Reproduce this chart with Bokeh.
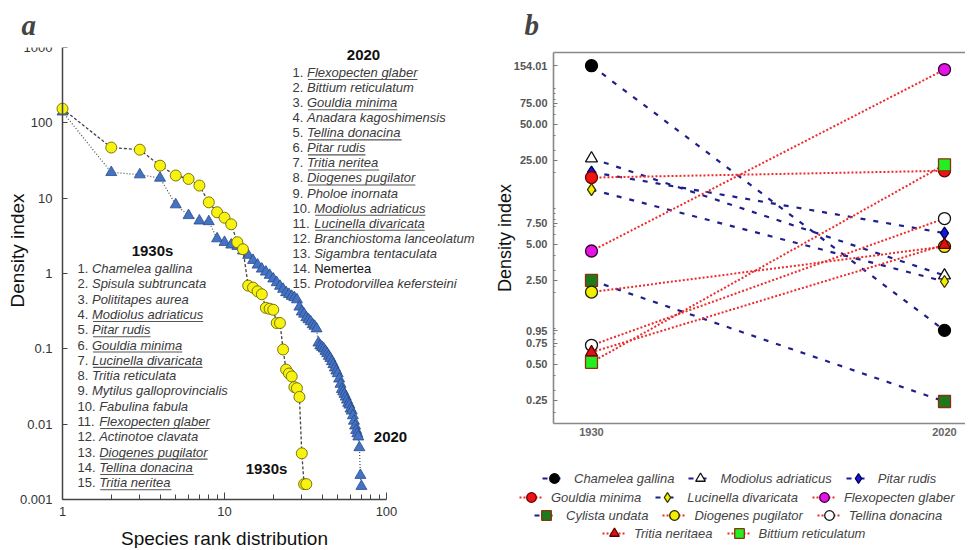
import math
from bokeh.plotting import figure
from bokeh.layouts import row
from bokeh.models import (FixedTicker, CustomJSTickFormatter, PrintfTickFormatter,
                          Legend, LegendItem, LinearAxis, Label, BoxAnnotation)
from bokeh.embed import file_html
from bokeh.resources import INLINE

# ---------------- panel a data ----------------
rank_1930 = list(range(1, 33))
dens_1930 = [154, 47, 44, 27, 20, 18, 14.7, 8.8, 6.5, 5.5,
             4.5, 2.6, 2.1, 0.69, 0.65, 0.58, 0.53, 0.35, 0.34, 0.33,
             0.22, 0.22, 0.098, 0.053, 0.047, 0.043, 0.031, 0.030, 0.023, 0.0041,
             0.0016, 0.0016]
rank_2020 = list(range(1, 71))
dens_2020 = [140, 22, 20.5, 18.5, 8.2, 5.9, 5.0, 4.9, 2.9, 2.6,
             2.4, 2.3, 2.0, 1.75, 1.5, 1.3, 1.15, 1.05, 0.95, 0.85,
             0.76, 0.68, 0.62, 0.56, 0.53, 0.5, 0.48, 0.45, 0.36, 0.31,
             0.29, 0.26, 0.245, 0.23, 0.21, 0.2, 0.185, 0.12, 0.11, 0.105,
             0.1, 0.093, 0.087, 0.08, 0.075, 0.068, 0.062, 0.056, 0.051, 0.047,
             0.04, 0.034, 0.029, 0.027, 0.025, 0.023, 0.021, 0.019, 0.018, 0.016,
             0.015, 0.013, 0.011, 0.0095, 0.0083, 0.0075, 0.0068, 0.0049, 0.0021, 0.0015]

x_ticks_a = [1, 10, 100]
x_minor_a = [2, 3, 4, 5, 6, 7, 8, 9, 20, 30, 40, 50, 60, 70, 80, 90]
y_ticks_a = [0.001, 0.01, 0.1, 1, 10, 100, 1000]

list_1930 = ["Chamelea gallina", "Spisula subtruncata", "Polititapes aurea",
             "Modiolus adriaticus", "Pitar rudis", "Gouldia minima",
             "Lucinella divaricata", "Tritia reticulata", "Mytilus galloprovincialis",
             "Fabulina fabula", "Flexopecten glaber", "Actinotoe clavata",
             "Diogenes pugilator", "Tellina donacina", "Tritia neritea"]
under_1930 = [0, 0, 0, 1, 1, 1, 1, 0, 0, 0, 1, 0, 1, 1, 1]
list_2020 = ["Flexopecten glaber", "Bittium reticulatum", "Gouldia minima",
             "Anadara kagoshimensis", "Tellina donacina", "Pitar rudis",
             "Tritia neritea", "Diogenes pugilator", "Pholoe inornata",
             "Modiolus adriaticus", "Lucinella divaricata", "Branchiostoma lanceolatum",
             "Sigambra tentaculata", "Nemertea", "Protodorvillea kefersteini"]
under_2020 = [1, 0, 1, 0, 1, 1, 1, 1, 0, 1, 1, 0, 0, 0, 0]

# ---------------- panel b data ----------------
species_b = ["Chamelea gallina", "Modiolus adriaticus", "Pitar rudis",
             "Gouldia minima", "Lucinella divaricata", "Flexopecten glaber",
             "Cylista undata", "Diogenes pugilator", "Tellina donacina",
             "Tritia neritaea", "Bittium reticulatum"]
years_b = [1930, 2020]
dens_b_1930 = [154.01, 26, 20, 18, 14.3, 4.4, 2.5, 2.0, 0.72, 0.63, 0.52]
dens_b_2020 = [0.96, 2.75, 6.2, 20.5, 2.45, 143, 0.245, 4.8, 8.2, 4.95, 23]
y_ticks_b = [0.25, 0.5, 0.75, 0.95, 2.5, 5, 7.5, 25, 50, 75, 154.01]
y_minor_b = [0.2, 0.3, 0.4, 0.6, 0.7, 0.8, 0.9, 1, 2, 3, 4, 6, 7, 8, 9, 10,
             20, 30, 40, 60, 70, 80, 90, 100]

markers_b = ["circle", "triangle", "diamond", "circle", "diamond", "circle",
             "square", "circle", "circle", "triangle", "square"]
fills_b = ["#000000", "#ffffff", "#1414e6", "#ee1414", "#f2ee00", "#e414e4",
           "#1c7a1c", "#f2ee00", "#ffffff", "#e01010", "#22ee22"]
edges_b = ["#000000", "#111111", "#000044", "#6a0000", "#333300", "#330033",
           "#8b3010", "#222200", "#111111", "#5a0000", "#8b3010"]
kinds_b = ["dash", "dash", "dash", "dot", "dash", "dot", "dash", "dot", "dot", "dot", "dot"]
legend_rows = [[0, 1, 2], [3, 4, 5], [6, 7, 8], [9, 10]]

FONT = "Liberation Sans"
H = 548          # both figures: frame from y=47 down to the figure bottom
TOP = 47
PAGE_X0 = 1      # observed left edge of the rendered layout
SHIFT = 7        # extra left border of panel a so the frame starts at page x = 8

# Arial-like advance widths (per 1000 em) for underline lengths
AW = dict(zip("abcdefghijklmnopqrstuvwxyz",
              [556, 556, 500, 556, 556, 278, 556, 556, 222, 222, 500, 222, 833,
               556, 556, 556, 556, 333, 500, 278, 556, 500, 722, 500, 500, 500]))
AW.update(dict(zip("ABCDEFGHIJKLMNOPQRSTUVWXYZ",
                   [667, 667, 722, 722, 667, 611, 778, 722, 278, 500, 667, 556, 833,
                    722, 778, 667, 778, 722, 667, 611, 722, 667, 944, 667, 667, 611])))
AW.update({" ": 278, ".": 278})


def text_w(s, px):
    return sum(AW.get(c, 556) for c in s) * px / 1000.0


# ================= panel a =================
# page pixels: x axis 1..100 spans 63..387, y axis 1000..0.001 spans 47..499
AX0, DEC_X = 63.0, 162.0
AY0, DEC_Y = 47.0, 452.0 / 6.0
FA_L, FA_R = 8, 480


def ax_x(px):
    return 10 ** ((px - AX0) / DEC_X)


def ax_y(py):
    return 10 ** (3.0 - (py - AY0) / DEC_Y)


pa = figure(width=FA_R - FA_L + SHIFT, height=H, x_axis_type="log", y_axis_type="log",
            x_range=(ax_x(FA_L), ax_x(FA_R)), y_range=(ax_y(H), ax_y(TOP)),
            output_backend="svg", toolbar_location=None,
            min_border_left=SHIFT, min_border_right=0, min_border_top=TOP,
            min_border_bottom=0, title="a")
pa.outline_line_color = None
pa.grid.visible = False

pa.title.text_font = "Liberation Serif"
pa.title.text_font_style = "bold italic"
pa.title.text_font_size = "29px"
pa.title.align = "left"
pa.title.offset = 14
pa.title.standoff = 13

pa.line(rank_2020, dens_2020, line_dash="1 2", line_color="#555555", line_width=1.3)
pa.scatter(rank_2020, dens_2020, marker="triangle", size=11,
           fill_color="#4573c4", line_color="#2a4a8a", line_width=0.8)
pa.line(rank_1930, dens_1930, line_dash="3 2", line_color="#444444", line_width=1.3)
pa.scatter(rank_1930, dens_1930, marker="circle", size=11,
           fill_color="#f7f20f", line_color="#6e6a00", line_width=0.9)

xa = pa.xaxis[0]
xa.fixed_location = 0.001
xa.bounds = (1, 100)
xa.ticker = FixedTicker(ticks=x_ticks_a, minor_ticks=x_minor_a)
xa.formatter = CustomJSTickFormatter(code="return String(tick)")
xa.major_tick_in = 7
xa.major_tick_out = 0
xa.minor_tick_in = 5
xa.minor_tick_out = 0
xa.axis_line_color = "#444444"
xa.axis_line_width = 1.5
xa.major_tick_line_color = "#444444"
xa.minor_tick_line_color = "#444444"
xa.major_label_text_font = FONT
xa.major_label_text_font_size = "13px"
xa.major_label_text_color = "#333333"
xa.major_label_standoff = 7
xa.axis_label = "Species rank distribution"
xa.axis_label_text_font = FONT
xa.axis_label_text_font_size = "19px"
xa.axis_label_text_font_style = "normal"
xa.axis_label_text_color = "#111111"
xa.axis_label_standoff = 9

ya = pa.yaxis[0]
ya.fixed_location = 1
ya.bounds = (0.001, 1000)
ya.ticker = FixedTicker(ticks=y_ticks_a, minor_ticks=[])
ya.formatter = CustomJSTickFormatter(code="return String(tick)")
ya.major_tick_in = 5
ya.major_tick_out = 0
ya.minor_tick_in = 0
ya.minor_tick_out = 0
ya.axis_line_color = "#444444"
ya.axis_line_width = 1.5
ya.major_tick_line_color = "#444444"
ya.major_label_text_font = FONT
ya.major_label_text_font_size = "13px"
ya.major_label_text_color = "#333333"
ya.major_label_standoff = 10


def add_label(p, px, py, text, size="13px", style="normal", align="left",
              color="#3a3a3a", angle=0.0):
    p.add_layout(Label(x=ax_x(px), y=ax_y(py), text=text, text_font=FONT,
                       text_font_size=size, text_font_style=style, text_align=align,
                       text_baseline="middle", text_color=color, angle=angle))


def add_list(p, x_num, y0, dy, items, under, fs=13):
    for i, name in enumerate(items):
        yy = y0 + i * dy
        num = f"{i + 1}."
        add_label(p, x_num, yy, num)
        nx = x_num + text_w(num + " ", fs)
        style = "normal" if name == "Nemertea" else "italic"
        col = "#111111" if name == "Nemertea" else "#3a3a3a"
        add_label(p, nx, yy, name, style=style, color=col)
        if under[i]:
            w = text_w(name, fs)
            p.add_layout(BoxAnnotation(left=ax_x(nx + 1), right=ax_x(nx + w),
                                       top=ax_y(yy + 6.5), bottom=ax_y(yy + 7.6),
                                       fill_color="#555555", fill_alpha=1.0,
                                       line_color=None))


add_label(pa, 18, 250, "Density index", size="19px", align="center",
          color="#111111", angle=math.pi / 2)
add_label(pa, 153, 250, "1930s", size="15px", style="bold", align="center", color="#111111")
add_list(pa, 78, 268, 15.3, list_1930, under_1930)
add_label(pa, 364, 54, "2020", size="15px", style="bold", align="center", color="#111111")
add_list(pa, 293, 72, 15.07, list_2020, under_2020)
add_label(pa, 267, 468, "1930s", size="15px", style="bold", align="center", color="#111111")
add_label(pa, 391, 436, "2020", size="15px", style="bold", align="center", color="#111111")

# ================= panel b =================
# page pixels: 1930 -> 592, 2020 -> 945 ; density v -> 327.7 - 120*log10(v)
BX_PER_YR = (945 - 592) / 90.0
FB_L, FB_R = 480, 966
PB_L, PB_T, PB_B = 554, 52, 423    # visible plot box (axes lines)


def bx(px):
    return 1930 + (px - 592) / BX_PER_YR


def by(py):
    return 10 ** ((327.7 - py) / 120.0)


pb = figure(width=FB_R - FB_L, height=H, y_axis_type="log",
            x_range=(bx(FB_L), bx(FB_R)), y_range=(by(H), by(TOP)),
            output_backend="svg", toolbar_location=None,
            min_border_left=0, min_border_right=0, min_border_top=TOP,
            min_border_bottom=0, title="b")
pb.outline_line_color = None
pb.grid.visible = False
pb.title.text_font = "Liberation Serif"
pb.title.text_font_style = "bold italic"
pb.title.text_font_size = "29px"
pb.title.align = "left"
pb.title.offset = 45
pb.title.standoff = 13

line_r, mark_r = [], []
for i, sp in enumerate(species_b):
    vals = [dens_b_1930[i], dens_b_2020[i]]
    if kinds_b[i] == "dash":
        lr = pb.line(years_b, vals, line_color="#1e1e8c", line_width=2.2, line_dash="5 8")
    else:
        lr = pb.line(years_b, vals, line_color="#ee2a2a", line_width=2.0, line_dash="2 2")
    line_r.append(lr)
for i, sp in enumerate(species_b):
    vals = [dens_b_1930[i], dens_b_2020[i]]
    mr = pb.scatter(years_b, vals, marker=markers_b[i], size=12,
                    fill_color=fills_b[i], line_color=edges_b[i], line_width=1.3)
    mark_r.append(mr)

xb = pb.xaxis[0]
xb.fixed_location = by(PB_B)
xb.bounds = (bx(PB_L), bx(FB_R))
xb.ticker = FixedTicker(ticks=years_b)
xb.major_tick_in = 0
xb.major_tick_out = 0
xb.minor_tick_in = 0
xb.minor_tick_out = 0
xb.axis_line_color = "#888888"
xb.axis_line_width = 1.6
xb.major_label_text_font = FONT
xb.major_label_text_font_size = "11px"
xb.major_label_text_font_style = "bold"
xb.major_label_text_color = "#666666"
xb.major_label_standoff = 4

yb = pb.yaxis[0]
yb.fixed_location = bx(PB_L)
yb.bounds = (by(PB_B), by(PB_T))
yb.ticker = FixedTicker(ticks=y_ticks_b, minor_ticks=y_minor_b)
yb.formatter = PrintfTickFormatter(format="%.2f")
yb.major_tick_in = 4
yb.major_tick_out = 0
yb.minor_tick_in = 2
yb.minor_tick_out = 0
yb.axis_line_color = "#888888"
yb.axis_line_width = 1.6
yb.major_tick_line_color = "#777777"
yb.minor_tick_line_color = "#777777"
yb.major_label_text_font = FONT
yb.major_label_text_font_size = "11px"
yb.major_label_text_font_style = "bold"
yb.major_label_text_color = "#555555"
yb.major_label_standoff = 6
yb.axis_label = "Density index"
yb.axis_label_text_font = FONT
yb.axis_label_text_font_size = "18px"
yb.axis_label_text_font_style = "normal"
yb.axis_label_text_color = "#111111"
yb.axis_label_standoff = -4

top_axis = LinearAxis(fixed_location=by(PB_T), bounds=(bx(PB_L), bx(FB_R)),
                      ticker=FixedTicker(ticks=[]), major_tick_in=0, major_tick_out=0,
                      minor_tick_in=0, minor_tick_out=0, major_label_standoff=0,
                      major_label_text_font_size="0px", axis_line_color="#888888",
                      axis_line_width=1.6)
pb.add_layout(top_axis, "above")

# legend rows: left edge (page x) and vertical centre (page y) of each row
row_left = [543, 520, 535, 603]
row_mid = [478, 497, 515, 533]
ROW_H = 24
for k, idxs in enumerate(legend_rows):
    items = [LegendItem(label=species_b[i], renderers=[line_r[i], mark_r[i]]) for i in idxs]
    lg = Legend(items=items, orientation="horizontal",
                location=(row_left[k] - FB_L, H - (row_mid[k] + ROW_H // 2)),
                glyph_width=24, glyph_height=ROW_H, label_standoff=8, spacing=14,
                padding=0, margin=0, border_line_color=None, background_fill_alpha=0,
                label_text_font=FONT, label_text_font_size="13px",
                label_text_font_style="italic", label_text_color="#444444",
                label_height=ROW_H)
    pb.add_layout(lg, "center")

layout = row(pa, pb)
open("out.html", "w").write(file_html(layout, INLINE))
